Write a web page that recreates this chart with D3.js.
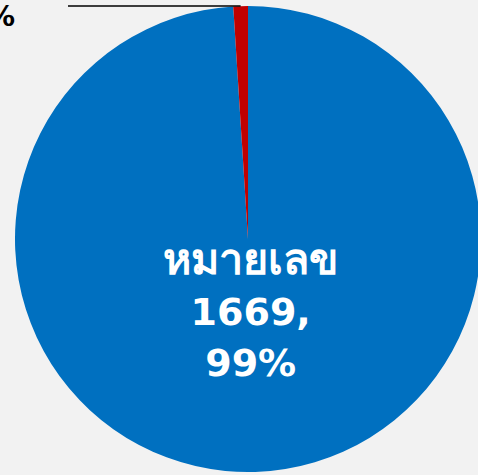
<!DOCTYPE html>
<html>
<head>
<meta charset="utf-8">
<script src="https://cdn.jsdelivr.net/npm/d3@7"></script>
<style>
  html, body { margin: 0; padding: 0; background: #f2f2f2; }
  svg { display: block; }
</style>
</head>
<body>
<svg></svg>
<script>
const width = 478;
const height = 475;

// datos
const categories = ["หมายเลข", "ไม่มีหมายเลข"];
const values = [1669, 17];
const percents = ["99%", "1%"];
const colors = ["#0070c0", "#c00000"];

const cx = 248, cy = 239, radius = 233;

const svg = d3.select("svg")
  .attr("width", width)
  .attr("height", height);

svg.append("rect")
  .attr("width", width)
  .attr("height", height)
  .attr("fill", "#f2f2f2");

const data = categories.map((c, i) => ({ name: c, value: values[i], pct: percents[i], color: colors[i] }));

const pie = d3.pie().sort(null).value(d => d.value);
const arcs = pie(data);

const arc = d3.arc().innerRadius(0).outerRadius(radius);

const g = svg.append("g").attr("transform", `translate(${cx},${cy})`);

g.selectAll("path")
  .data(arcs)
  .join("path")
  .attr("d", arc)
  .attr("fill", d => d.data.color);

// etiqueta dentro (grande)
const inLabel = d3.arc().innerRadius(84).outerRadius(84);
const big = arcs[0];
const [bx, by] = inLabel.centroid(big);
const bigLines = [big.data.name, big.data.value + ",", big.data.pct];
g.append("text")
  .attr("text-anchor", "middle")
  .attr("fill", "#ffffff")
  .style("font-family", "Tahoma, 'DejaVu Sans', sans-serif")
  .style("font-weight", "bold")
  .style("font-size", "38px")
  .selectAll("tspan")
  .data(bigLines)
  .join("tspan")
  .attr("x", bx)
  .attr("y", (d, i) => by - 49 + i * 51)
  .style("font-size", (d, i) => i === 0 ? "43px" : null)
  .text(d => d);

// etiqueta fuera (pequeña) con línea guía
const small = arcs[1];
const edge = d3.arc().innerRadius(radius).outerRadius(radius);
const [ex, ey] = edge.centroid(small);
g.append("line")
  .attr("x1", ex)
  .attr("y1", ey)
  .attr("x2", 68 - cx)
  .attr("y2", ey)
  .attr("stroke", "#000")
  .attr("stroke-width", 1.5);

const smallLines = [small.data.name, small.data.value + ",", small.data.pct];
g.append("text")
  .attr("text-anchor", "end")
  .attr("fill", "#000")
  .style("font-family", "Tahoma, 'DejaVu Sans', sans-serif")
  .style("font-weight", "bold")
  .style("font-size", "28px")
  .selectAll("tspan")
  .data(smallLines)
  .join("tspan")
  .attr("x", 15 - cx)
  .attr("y", (d, i) => ey + 20 - (smallLines.length - 1 - i) * 36)
  .text(d => d);
</script>
</body>
</html>
